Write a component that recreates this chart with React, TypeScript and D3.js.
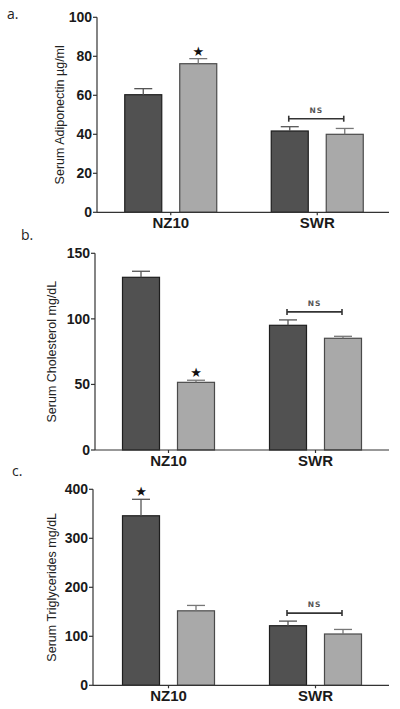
import React from "react";
import * as d3 from "d3";

const categories = ["NZ10", "SWR"];
const seriesKeys = ["dark", "light"];

const adipoMean = [[60.3, 76.2], [41.7, 40.0]];
const adipoErr = [[3.1, 2.6], [2.2, 3.0]];
const adipoTicks = [0, 20, 40, 60, 80, 100];

const cholMean = [[131.7, 51.6], [95.1, 85.2]];
const cholErr = [[4.6, 1.6], [4.1, 1.5]];
const cholTicks = [0, 50, 100, 150];

const trigMean = [[346, 152], [121.6, 104.7]];
const trigErr = [[33.6, 11], [9.4, 9.3]];
const trigTicks = [0, 100, 200, 300, 400];

type PanelProps = {
  letter: string;
  letterX: number;
  letterY: number;
  title: string;
  titleX: number;
  axisX: number;
  y0: number;
  yTop: number;
  ticks: number[];
  means: number[][];
  errs: number[][];
  star: [number, number];
  bandRange: [number, number];
};

const Panel = (p: PanelProps) => {
  const maxV = p.ticks[p.ticks.length - 1];
  const y = d3.scaleLinear().domain([0, maxV]).range([p.y0, p.yTop]);
  const x = d3.scaleBand<string>().domain(categories).range(p.bandRange).padding(0);
  const groupW = 92;
  const inner = d3.scaleBand<string>().domain(seriesKeys).range([0, groupW]).paddingInner(0.327).paddingOuter(0);
  const fills = ["#515151", "#a9a9a9"];
  const strokes = ["#1e1e1e", "#4a4a4a"];
  const errColors = ["#555", "#777"];
  const swrStart = (x("SWR") as number) + x.bandwidth() / 2 - groupW / 2;
  const nsX1 = swrStart + (inner("dark") as number) + inner.bandwidth() / 2 - 1;
  const nsX2 = swrStart + (inner("light") as number) + inner.bandwidth() / 2 - 1;
  const nsTop = Math.max(...p.means[1].map((m, i) => m + p.errs[1][i]));
  const nsY = y(nsTop) - 8;
  const [si, sj] = p.star;
  const starBarX = (x(categories[si]) as number) + x.bandwidth() / 2 - groupW / 2 + (inner(seriesKeys[sj]) as number) + inner.bandwidth() / 2;
  const starY = y(p.means[si][sj] + p.errs[si][sj]) - 3;
  const titleY = (p.y0 + p.yTop) / 2;
  return (
    <g>
      <text x={p.letterX} y={p.letterY} fontFamily="'Open Sans', sans-serif" fontSize={14} fill="#222">{p.letter}</text>
      <text transform={`translate(${p.titleX},${titleY}) rotate(-90)`} textAnchor="middle" fontFamily="'Liberation Sans', Arial, sans-serif" fontSize={12.5} fill="#222">{p.title}</text>
      {categories.map((c, i) => {
        const gx = (x(c) as number) + x.bandwidth() / 2 - groupW / 2;
        return seriesKeys.map((s, j) => {
          const bx = gx + (inner(s) as number);
          const bw = inner.bandwidth();
          const top = y(p.means[i][j]);
          const et = y(p.means[i][j] + p.errs[i][j]);
          const cx = bx + bw / 2;
          return (
            <g key={c + s}>
              <rect x={bx} y={top} width={bw} height={p.y0 - top} fill={fills[j]} stroke={strokes[j]} strokeWidth={1.2} />
              <line x1={cx} x2={cx} y1={top} y2={et} stroke={errColors[j]} strokeWidth={1.3} />
              <line x1={cx - 9} x2={cx + 9} y1={et} y2={et} stroke={errColors[j]} strokeWidth={1.3} />
            </g>
          );
        });
      })}
      <line x1={p.axisX} x2={p.axisX} y1={p.yTop} y2={p.y0} stroke="#333" strokeWidth={1.2} />
      <line x1={p.axisX} x2={389} y1={p.y0} y2={p.y0} stroke="#333" strokeWidth={1.2} />
      {p.ticks.map((t) => (
        <g key={t}>
          <line x1={p.axisX - 4} x2={p.axisX} y1={y(t)} y2={y(t)} stroke="#333" strokeWidth={1.2} />
          <text x={p.axisX - 5} y={y(t)} dy="0.36em" textAnchor="end" fontFamily="'Liberation Sans', Arial, sans-serif" fontWeight="bold" fontSize={14} fill="#1a1a1a">{t}</text>
        </g>
      ))}
      {categories.map((c) => {
        const cx = (x(c) as number) + x.bandwidth() / 2;
        return (
          <g key={c}>
            <line x1={cx} x2={cx} y1={p.y0} y2={p.y0 + 3} stroke="#333" strokeWidth={1.2} />
            <text x={cx} y={p.y0 + 15.5} textAnchor="middle" fontFamily="'Liberation Sans', Arial, sans-serif" fontWeight="bold" fontSize={15} fill="#1a1a1a">{c}</text>
          </g>
        );
      })}
      <line x1={nsX1} x2={nsX2} y1={nsY} y2={nsY} stroke="#333" strokeWidth={1.6} />
      <line x1={nsX1} x2={nsX1} y1={nsY - 3} y2={nsY + 3} stroke="#333" strokeWidth={1.6} />
      <line x1={nsX2} x2={nsX2} y1={nsY - 3} y2={nsY + 3} stroke="#333" strokeWidth={1.6} />
      <text x={(nsX1 + nsX2) / 2} y={nsY - 6} textAnchor="middle" fontFamily="'DejaVu Sans', sans-serif" fontWeight="bold" fontSize={7.5} letterSpacing={1} fill="#555">NS</text>
      <text x={starBarX} y={starY} textAnchor="middle" fontFamily="'DejaVu Sans', sans-serif" fontSize={13} fill="#111">★</text>
    </g>
  );
};

export default function App() {
  return (
    <svg width={400} height={709} style={{ display: "block", position: "absolute", left: 0, top: 0, background: "#fff" }}>
      <rect width={400} height={709} fill="#fff" />
      <Panel letter="a." letterX={7} letterY={19} title="Serum Adiponectin µg/ml" titleX={64} axisX={97} y0={212.3} yTop={17.3} ticks={adipoTicks} means={adipoMean} errs={adipoErr} star={[0, 1]} bandRange={[97.5, 390.5]} />
      <Panel letter="b." letterX={21} letterY={240} title="Serum Cholesterol mg/dL" titleX={56} axisX={95} y0={450} yTop={253.3} ticks={cholTicks} means={cholMean} errs={cholErr} star={[0, 1]} bandRange={[95, 389]} />
      <Panel letter="c." letterX={12} letterY={476} title="Serum Triglycerides mg/dL" titleX={56} axisX={93} y0={685.3} yTop={489.3} ticks={trigTicks} means={trigMean} errs={trigErr} star={[0, 0]} bandRange={[95, 389]} />
    </svg>
  );
}
